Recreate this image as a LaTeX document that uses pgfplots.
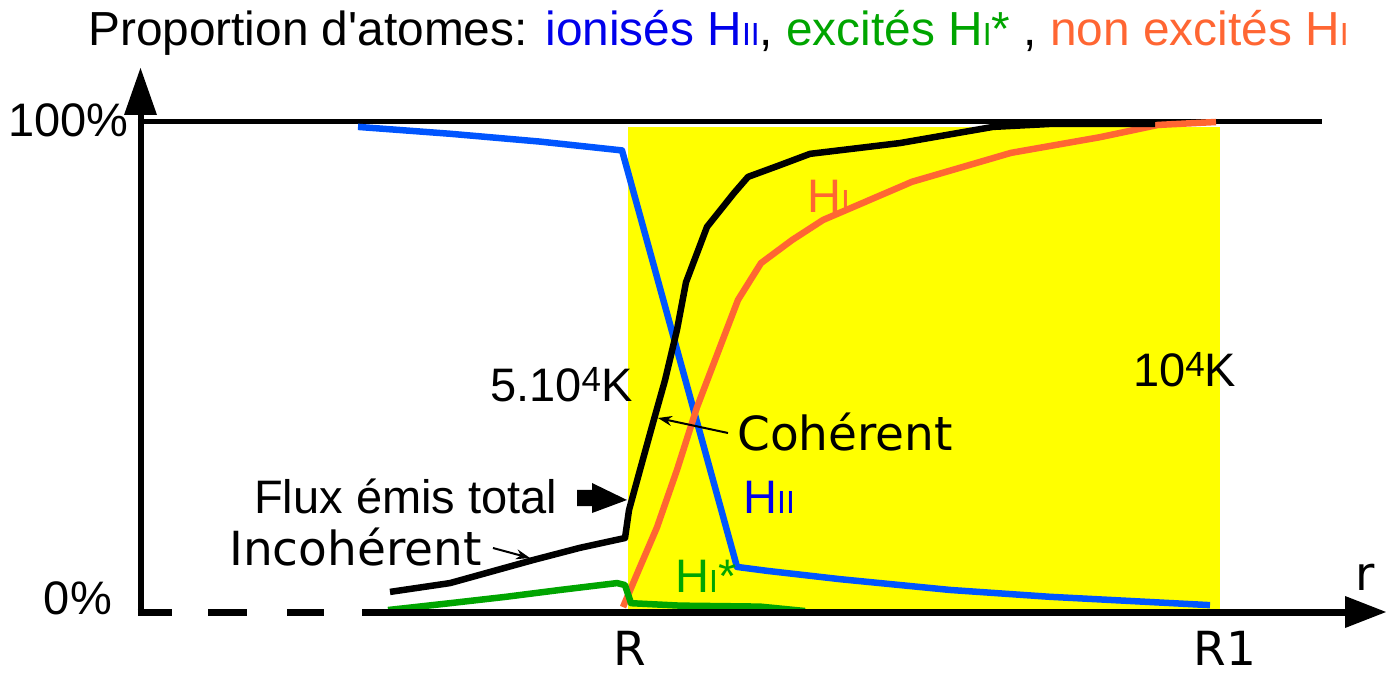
\documentclass[border=0pt]{standalone}
\usepackage{pgfplots}
\pgfplotsset{compat=1.18}
\usepackage{fontspec}
\setmainfont{Liberation Sans}
\newfontfamily\dv{DejaVu Sans}
\usetikzlibrary{arrows.meta}
\definecolor{lblue}{RGB}{0,85,255}
\definecolor{tblue}{RGB}{0,0,235}
\definecolor{lgreen}{RGB}{0,165,0}
\definecolor{lorange}{RGB}{255,102,51}
\definecolor{yel}{RGB}{255,255,0}
\newcommand\sI[1]{{\fontsize{32}{32}\selectfont #1}}
\newcommand\bigf{\fontsize{47}{50}\selectfont}
\newcommand\titf{\fontsize{47.8}{50}\selectfont}
\newcommand\dvf{\dv\fontsize{47}{50}\selectfont}

\begin{document}
\begin{tikzpicture}
\begin{axis}[scale only axis, width=1386pt, height=675pt,
  xmin=0, xmax=1386, ymin=-12.857, ymax=124.898,
  hide axis, clip=false]
% yellow zone
\addplot[draw=none, fill=yel] coordinates {(628,0) (1220,0) (1220,98.98) (628,98.98)} -- cycle;
% axes
\draw[line width=6pt] (axis cs:140.5,-0.8) -- (axis cs:140.5,101.8);
\fill (axis cs:124,101.43) -- (axis cs:157,101.43) -- (axis cs:140.5,111.02) -- cycle;
\draw[line width=5pt] (axis cs:137.5,100) -- (axis cs:1322,100);
\draw[line width=7pt] (axis cs:137.5,0) -- (axis cs:172,0);
\draw[line width=7pt] (axis cs:208,0) -- (axis cs:247,0);
\draw[line width=7pt] (axis cs:287,0) -- (axis cs:324,0);
% H II (blue)
\addplot[lblue, line width=6.5pt, line join=round] coordinates {
 (358,99.0) (450,97.6) (540,96.0) (622,94.2) (737,9.2) (767,8.4) (840,6.7) (950,4.5) (1050,3.1) (1210,1.4)};
% H I (orange)
\addplot[lorange, line width=6.5pt, line join=round] coordinates {
 (623,1.0) (640,9.2) (657,17.3) (677,29.0) (697,41.8) (738,63.7) (761,71.2) (792,75.9) (823,80.0) (912,87.8) (1011,93.7) (1100,96.9) (1158,99.4) (1216,100)};
% H I* (green)
\addplot[lgreen, line width=6.5pt, line join=round] coordinates {
 (388,0.4) (450,1.8) (506,3.1) (560,4.5) (617,5.9) (625,5.5) (631,1.8) (680,1.3) (760,1.1) (805,0.2)};
% flux total (black)
\addplot[black, line width=6.5pt, line join=round] coordinates {
 (390,4.1) (450,5.9) (533,10.6) (580,13.1) (625,15.1) (629,20.8) (640,29.0) (653,38.6) (665,47.3) (677,57.6) (686,67.3) (707,78.6) (734,85.5) (748,88.8) (780,91.2) (810,93.5) (900,95.7) (993,99.0) (1050,99.6) (1155,99.6)};
% x axis solid part + arrow
\draw[line width=7pt] (axis cs:362,0) -- (axis cs:1350,0);
\fill (axis cs:1345,3.27) -- (axis cs:1386,0) -- (axis cs:1345,-3.27) -- cycle;
% texts
\node[anchor=base west, inner sep=0, font=\titf] at (axis cs:88,115.71)
 {Proportion d\textquotesingle atomes: \textcolor{tblue}{ionisés H\sI{II}}, \textcolor{lgreen}{excités H\sI{I}*} , \textcolor{lorange}{non excités H\sI{I}}};
\node[anchor=base east, inner sep=0, font=\bigf] at (axis cs:129,96.94) {100\%};
\node[anchor=base east, inner sep=0, font=\bigf] at (axis cs:112,-0.61) {0\%};
\node[anchor=base west, inner sep=0, font=\bigf] at (axis cs:490,42.86) {5.10\raisebox{0.23em}{\fontsize{35}{35}\selectfont 4}K};
\node[anchor=base west, inner sep=0, font=\bigf] at (axis cs:1133,45.92) {10\raisebox{0.23em}{\fontsize{35}{35}\selectfont 4}K};
\node[anchor=base west, inner sep=0, font=\bigf] at (axis cs:254,20.20) {Flux émis total};
\node[anchor=base west, inner sep=0, font=\bigf, text=tblue] at (axis cs:743,20.20) {H\sI{II}};
\node[anchor=base west, inner sep=0, font=\bigf, text=lgreen] at (axis cs:675,4.08) {H\sI{I}*};
\node[anchor=base west, inner sep=0, font=\bigf, text=lorange] at (axis cs:807,81.63) {H\sI{I}};
\node[anchor=base west, inner sep=0, font=\dvf] at (axis cs:229,9.59) {Incohérent};
\node[anchor=base west, inner sep=0, font=\dvf] at (axis cs:737,33.06) {Cohérent};
\node[anchor=base, inner sep=0, font=\dvf] at (axis cs:630,-10.9) {R};
\node[anchor=base, inner sep=0, font=\dvf] at (axis cs:1225,-10.9) {R1};
\node[anchor=base west, inner sep=0, font=\dvf] at (axis cs:1355,4.49) {r};
% arrows
\fill (axis cs:577,24.9) -- (axis cs:592,24.9) -- (axis cs:592,26.33) -- (axis cs:627,22.86) -- (axis cs:592,20.2) -- (axis cs:592,21.63) -- (axis cs:577,21.63) -- cycle;
\draw[line width=2pt, -{Stealth[length=14pt,width=10pt]}] (axis cs:493,13.06) -- (axis cs:530,11.02);
\draw[line width=2pt, -{Stealth[length=14pt,width=10pt]}] (axis cs:728,36.53) -- (axis cs:658,39.59);
\end{axis}
\pgfresetboundingbox
\useasboundingbox (current axis.south west) rectangle (current axis.north east);
\end{tikzpicture}
\end{document}
